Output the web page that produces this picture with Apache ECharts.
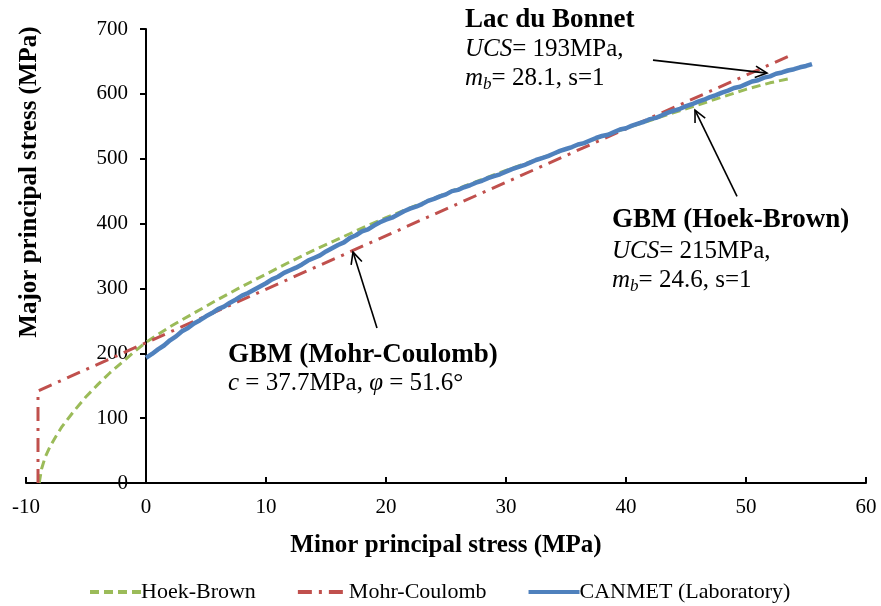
<!DOCTYPE html>
<html><head><meta charset="utf-8">
<script src="https://cdn.jsdelivr.net/npm/echarts@6/dist/echarts.min.js"></script>
<style>html,body{margin:0;padding:0;background:#fff}#c{width:881px;height:606px}</style>
</head><body><div id="c"></div>
<script>
// ---- data ----
const seriesNames = ['Hoek-Brown', 'Mohr-Coulomb', 'CANMET (Laboratory)'];
const hoekBrown = [[-8.9,0],[-8.7,22],[-8.4,40],[-8,56],[-7.5,72],[-7,87],[-6,111],[-5,133],[-4,152],[-3,170],[-2,186],[-1,202],[0,217],[2,241],[4,262],[6,283],[8,303],[10,322],[12,341],[14,359],[16,376],[18,393],[20,409],[22,424],[24,439],[26,454],[28,468],[30,482],[32,495],[34,508],[36,521],[38,534],[40,547],[42,559],[44,571],[46,583],[48,595],[50,607],[52,617],[53.5,623]];
const mohrCoulomb = [[-9,0],[-9,142],[53.8,660]];
const canmet = [[0,193],[0.5,199],[1,206],[1.5,212],[2,220],[2.5,226],[3,234],[3.5,239],[4,246],[4.5,251],[5,257],[5.5,262],[6,268],[6.5,272],[7,278],[7.5,283],[8,289],[8.5,293],[9,298],[9.5,303],
  [10,308],[10.5,314],[11,318],[11.5,324],[12,328],[12.5,332],[13,337],[13.5,343],[14,347],[14.5,351],[15,357],[15.5,362],[16,367],[16.5,371],[17,378],[17.5,382],[18,388],[18.5,391],[19,397],[19.5,402],
  [20,406],[20.5,409],[21,414],[21.5,419],[22,423],[22.5,426],[23,430],[23.5,435],[24,438],[24.5,442],[25,445],[25.5,450],[26,452],[26.5,456],[27,459],[27.5,463],[28,466],[28.5,470],[29,473],[29.5,476],
  [30,480],[30.5,484],[31,487],[31.5,490],[32,494],[32.5,498],[33,501],[33.5,504],[34,508],[34.5,512],[35,515],[35.5,518],[36,522],[36.5,524],[37,528],[37.5,532],[38,535],[38.5,537],[39,541],[39.5,545],
  [40,547],[40.5,551],[41,554],[41.5,557],[42,561],[42.5,563],[43,567],[43.5,571],[44,574],[44.5,577],[45,581],[45.5,584],[46,588],[46.5,591],[47,595],[47.5,598],[48,602],[48.5,605],[49,609],[49.5,611],
  [50,615],[50.5,619],[51,621],[51.5,625],[52,627],[52.5,631],[53,633],[53.5,636],[54,638],[54.5,641],[55,643],[55.5,646]];
const xTickLabels = [-10,0,10,20,30,40,50,60];
const yTickLabels = [0,100,200,300,400,500,600,700];

const SERIF = '"Liberation Serif","Times New Roman",serif';
const chart = echarts.init(document.getElementById('c'), null, {renderer:'canvas'});
const GRID_LEFT = 26;

const option = {
  animation:false,
  backgroundColor:'#fff',
  grid:{left:GRID_LEFT,right:15,top:29,bottom:123,containLabel:false,outerBoundsMode:'none'},
  xAxis:{
    type:'value', min:xTickLabels[0], max:xTickLabels[xTickLabels.length-1], interval:10,
    name:'Minor principal stress (MPa)', nameLocation:'middle', nameGap:50,
    nameTextStyle:{fontFamily:SERIF,fontSize:25,fontWeight:'bold',color:'#000'},
    axisLine:{onZero:false,lineStyle:{color:'#000',width:2}},
    axisTick:{inside:true,length:6,lineStyle:{color:'#000',width:2}},
    axisLabel:{fontFamily:SERIF,fontSize:21,color:'#000',margin:14},
    splitLine:{show:false}
  },
  yAxis:{
    type:'value', min:yTickLabels[0], max:yTickLabels[yTickLabels.length-1], interval:100,
    offset:0,
    axisLine:{onZero:false,lineStyle:{color:'#000',width:2}},
    axisTick:{inside:false,length:6,lineStyle:{color:'#000',width:2}},
    axisLabel:{fontFamily:SERIF,fontSize:21,color:'#000',margin:18},
    splitLine:{show:false}
  },
  legend:{
    left:83, top:576, itemWidth:51, itemHeight:16, itemGap:40,
    itemStyle:{opacity:0},
    lineStyle:{width:4},
    textStyle:{fontFamily:SERIF,fontSize:22,color:'#000',padding:[0,0,0,-5]},
    data:seriesNames
  },
  series:[
    {name:seriesNames[0],type:'line',data:hoekBrown,showSymbol:false,symbol:'none',
     lineStyle:{color:'#9BBB59',width:3,type:[9,5]},itemStyle:{color:'#9BBB59'},z:2},
    {name:seriesNames[1],type:'line',data:mohrCoulomb,showSymbol:false,symbol:'none',
     lineStyle:{color:'#C0504D',width:3,type:[14,7,3,7]},itemStyle:{color:'#C0504D'},z:3},
    {name:seriesNames[2],type:'line',data:canmet,showSymbol:false,symbol:'none',
     lineStyle:{color:'#4F81BD',width:4.5},itemStyle:{color:'#4F81BD'},z:4}
  ]
};
chart.setOption(option);
// place the y axis (line, ticks, labels) at x = 0, as in the reference
const zeroPx = chart.convertToPixel({gridIndex:0},[0,0])[0];
chart.setOption({yAxis:{offset:-(zeroPx-GRID_LEFT)}});

// ---- annotations ----
const arrows = [
  {from:[42.25,652],to:[51.75,632]},
  {from:[49.25,442],to:[45.75,575]},
  {from:[19.25,239],to:[17.25,356]}
];
const richBase = {
  b:{fontFamily:SERIF,fontSize:27,fontWeight:'bold',color:'#000'},
  n:{fontFamily:SERIF,fontSize:25,color:'#000',verticalAlign:'middle',lineHeight:30},
  i:{fontFamily:SERIF,fontSize:25,fontStyle:'italic',color:'#000',verticalAlign:'middle',lineHeight:30},
  s:{fontFamily:SERIF,fontSize:17,fontStyle:'italic',color:'#000',verticalAlign:'bottom',lineHeight:30}
};
const texts = [
  {x:465,y:20,t:'{b|Lac du Bonnet}'},
  {x:465,y:49,t:'{i|UCS}{n|= 193MPa,}'},
  {x:465,y:78,t:'{i|m}{s|b}{n|= 28.1, s=1}'},
  {x:612,y:220,t:'{b|GBM (Hoek-Brown)}'},
  {x:612,y:251,t:'{i|UCS}{n|= 215MPa,}'},
  {x:612,y:280,t:'{i|m}{s|b}{n|= 24.6, s=1}'},
  {x:228,y:355,t:'{b|GBM (Mohr-Coulomb)}'},
  {x:228,y:383,t:'{i|c}{n| = 37.7MPa, }{i|φ}{n| = 51.6°}'}
];
const g = [];
texts.forEach(o=>g.push({type:'text',x:o.x,y:o.y,z:10,style:{text:o.t,rich:richBase,align:'left',verticalAlign:'middle'}}));
arrows.forEach(a=>{
  const p0 = chart.convertToPixel({gridIndex:0},a.from);
  const p1 = chart.convertToPixel({gridIndex:0},a.to);
  const ang = Math.atan2(p1[1]-p0[1],p1[0]-p0[0]);
  const L=13, w=0.45;
  const h1=[p1[0]-L*Math.cos(ang-w),p1[1]-L*Math.sin(ang-w)];
  const h2=[p1[0]-L*Math.cos(ang+w),p1[1]-L*Math.sin(ang+w)];
  g.push({type:'line',z:10,shape:{x1:p0[0],y1:p0[1],x2:p1[0],y2:p1[1]},style:{stroke:'#000',lineWidth:1.6}});
  g.push({type:'polyline',z:10,shape:{points:[h1,p1,h2]},style:{stroke:'#000',lineWidth:1.6,fill:null}});
});
g.push({type:'text',x:30,y:182,rotation:Math.PI/2,z:10,style:{text:'Major principal stress (MPa)',font:'bold 25px '+SERIF,fill:'#000',align:'center',verticalAlign:'middle'}});
chart.setOption({graphic:g});
</script></body></html>
